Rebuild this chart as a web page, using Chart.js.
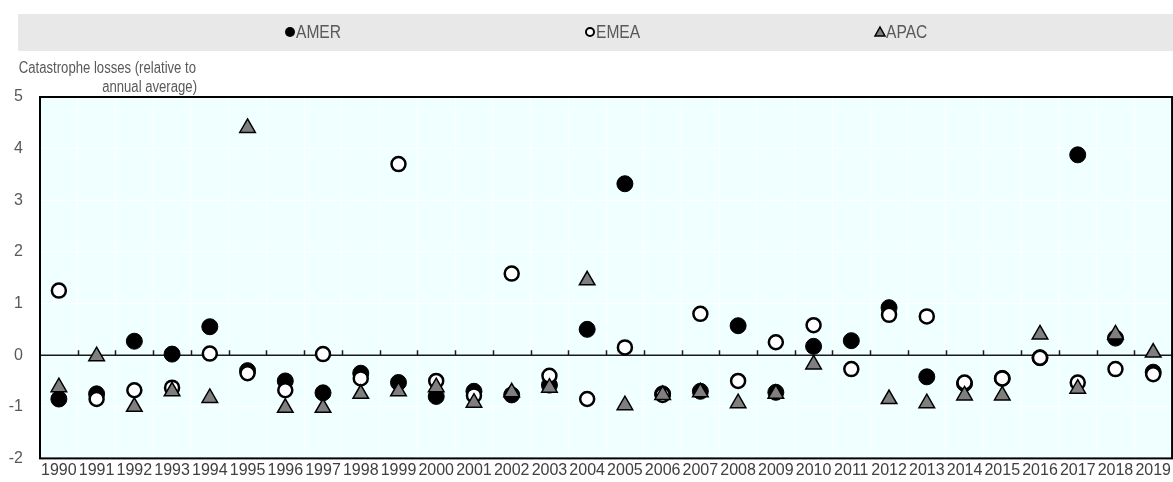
<!DOCTYPE html>
<html>
<head>
<meta charset="utf-8">
<script src="https://cdn.jsdelivr.net/npm/chart.js@4"></script>
<style>
  html, body { margin: 0; padding: 0; background: #fff; overflow: hidden; }
  #wrap { width: 1173px; height: 482px; overflow: hidden; }
</style>
</head>
<body>
<div id="wrap"><canvas id="myChart" width="1174" height="485"></canvas></div>
<script>
const years = ['1990','1991','1992','1993','1994','1995','1996','1997','1998','1999',
  '2000','2001','2002','2003','2004','2005','2006','2007','2008','2009',
  '2010','2011','2012','2013','2014','2015','2016','2017','2018','2019'];

const amer = [-0.85, -0.75, 0.27, 0.02, 0.55, -0.30, -0.50, -0.73, -0.35, -0.53,
  -0.80, -0.70, -0.77, -0.58, 0.50, 3.32, -0.75, -0.70, 0.57, -0.72,
  0.17, 0.28, 0.92, -0.42, -0.55, -0.45, -0.05, 3.88, 0.33, -0.33];

const emea = [1.25, -0.85, -0.68, -0.63, 0.03, -0.35, -0.68, 0.02, -0.45, 3.70,
  -0.50, -0.78, 1.58, -0.40, -0.85, 0.15, -0.77, 0.80, -0.50, 0.25,
  0.58, -0.27, 0.78, 0.75, -0.53, -0.45, -0.05, -0.53, -0.27, -0.37];

const apac = [-0.62, -0.02, -1.00, -0.70, -0.83, 4.40, -1.02, -1.02, -0.75, -0.70,
  -0.62, -0.92, -0.72, -0.63, 1.45, -0.97, -0.77, -0.72, -0.93, -0.75,
  -0.18, null, -0.85, -0.93, -0.78, -0.78, 0.40, -0.65, 0.40, 0.05];

const yTicks = [-2, -1, 0, 1, 2, 3, 4, 5];
const yTitle = ['Catastrophe losses (relative to', 'annual average)'];
const seriesNames = ['AMER', 'EMEA', 'APAC'];

const FONT = '"Liberation Sans", Arial, sans-serif';

// squeezed text, the original uses a narrow face
function narrowText(ctx, text, x, y, align) {
  const k = 0.82;
  ctx.save();
  ctx.translate(x, y);
  ctx.scale(k, 1);
  ctx.textAlign = align;
  ctx.fillText(text, 0, 0);
  ctx.restore();
}

// background, zero line, border, legend and axis title
const decor = {
  id: 'decor',
  beforeDraw(chart) {
    const { ctx, chartArea: a } = chart;
    ctx.save();
    ctx.fillStyle = '#f0ffff';
    ctx.fillRect(a.left, a.top, a.right - a.left, a.bottom - a.top);
    ctx.restore();
  },
  beforeDatasetsDraw(chart) {
    const { ctx, chartArea: a, scales } = chart;
    const y0 = scales.y.getPixelForValue(0);
    ctx.save();
    ctx.strokeStyle = '#1a1a1a';
    ctx.lineWidth = 1.5;
    ctx.beginPath();
    ctx.moveTo(a.left, y0);
    ctx.lineTo(a.right, y0);
    const n = years.length;
    const w = (a.right - a.left) / n;
    for (let i = 1; i < n; i++) {
      const x = Math.round(scales.x.getPixelForValue(i) - w / 2) + 0.5;
      ctx.moveTo(x, y0);
      ctx.lineTo(x, y0 - 5);
    }
    ctx.stroke();
    ctx.lineWidth = 2;
    ctx.strokeStyle = '#000';
    ctx.strokeRect(a.left, a.top, a.right - a.left, a.bottom - a.top);
    ctx.restore();
  },
  afterDraw(chart) {
    const { ctx } = chart;
    ctx.save();
    // legend
    ctx.fillStyle = '#e8e8e8';
    ctx.fillRect(18, 14, 1156, 37);
    const lx = [290, 590, 880];
    const ly = 32;
    ctx.font = '19px ' + FONT;
    ctx.textBaseline = 'middle';
    seriesNames.forEach((name, i) => {
      const x = lx[i];
      ctx.beginPath();
      if (i === 0) {
        ctx.fillStyle = '#000';
        ctx.arc(x, ly, 5, 0, Math.PI * 2);
        ctx.fill();
      } else if (i === 1) {
        ctx.fillStyle = '#fff';
        ctx.strokeStyle = '#000';
        ctx.lineWidth = 2;
        ctx.arc(x, ly, 4, 0, Math.PI * 2);
        ctx.fill();
        ctx.stroke();
      } else {
        ctx.fillStyle = '#7f7f7f';
        ctx.strokeStyle = '#000';
        ctx.lineWidth = 1.5;
        ctx.moveTo(x, ly - 5);
        ctx.lineTo(x + 5, ly + 4);
        ctx.lineTo(x - 5, ly + 4);
        ctx.closePath();
        ctx.fill();
        ctx.stroke();
      }
      ctx.fillStyle = '#595959';
      narrowText(ctx, name, x + 6, ly + 1, 'left');
    });
    // y axis title
    ctx.fillStyle = '#595959';
    ctx.font = '16px ' + FONT;
    narrowText(ctx, yTitle[0], 196, 69, 'right');
    narrowText(ctx, yTitle[1], 197, 88, 'right');
    ctx.restore();
  }
};

const ctx = document.getElementById('myChart');

new Chart(ctx, {
  type: 'line',
  data: {
    labels: years,
    datasets: [
      {
        label: 'AMER',
        data: amer,
        showLine: false,
        pointStyle: 'circle',
        pointRadius: 8,
        pointBackgroundColor: '#000',
        pointBorderColor: '#000',
        pointBorderWidth: 1,
        order: 2
      },
      {
        label: 'EMEA',
        data: emea,
        showLine: false,
        pointStyle: 'circle',
        pointRadius: 7,
        pointBackgroundColor: '#fff',
        pointBorderColor: '#000',
        pointBorderWidth: 2.5,
        order: 1
      },
      {
        label: 'APAC',
        data: apac,
        showLine: false,
        pointStyle: 'triangle',
        pointRadius: 9,
        pointBackgroundColor: '#7f7f7f',
        pointBorderColor: '#000',
        pointBorderWidth: 1.5,
        order: 0
      }
    ]
  },
  options: {
    responsive: false,
    animation: false,
    layout: { autoPadding: false, padding: { top: 97, right: 0, left: 0, bottom: 0 } },
    plugins: {
      legend: { display: false },
      tooltip: { enabled: false }
    },
    scales: {
      x: {
        offset: true,
        grid: { offset: true, color: '#ffffff', lineWidth: 1, drawTicks: false },
        border: { display: false },
        ticks: {
          color: '#404040',
          font: { family: FONT, size: 16 },
          padding: 3,
          maxRotation: 0,
          autoSkip: false
        }
      },
      y: {
        min: -2,
        max: 5,
        afterBuildTicks(scale) { scale.ticks = yTicks.map(v => ({ value: v })); },
        grid: { color: '#ffffff', lineWidth: 1, drawTicks: false },
        border: { display: false },
        ticks: {
          color: '#595959',
          font: { family: FONT, size: 16 },
          padding: 17
        },
        afterFit(scale) { scale.width = 40; }
      }
    }
  },
  plugins: [decor]
});
</script>
</body>
</html>
